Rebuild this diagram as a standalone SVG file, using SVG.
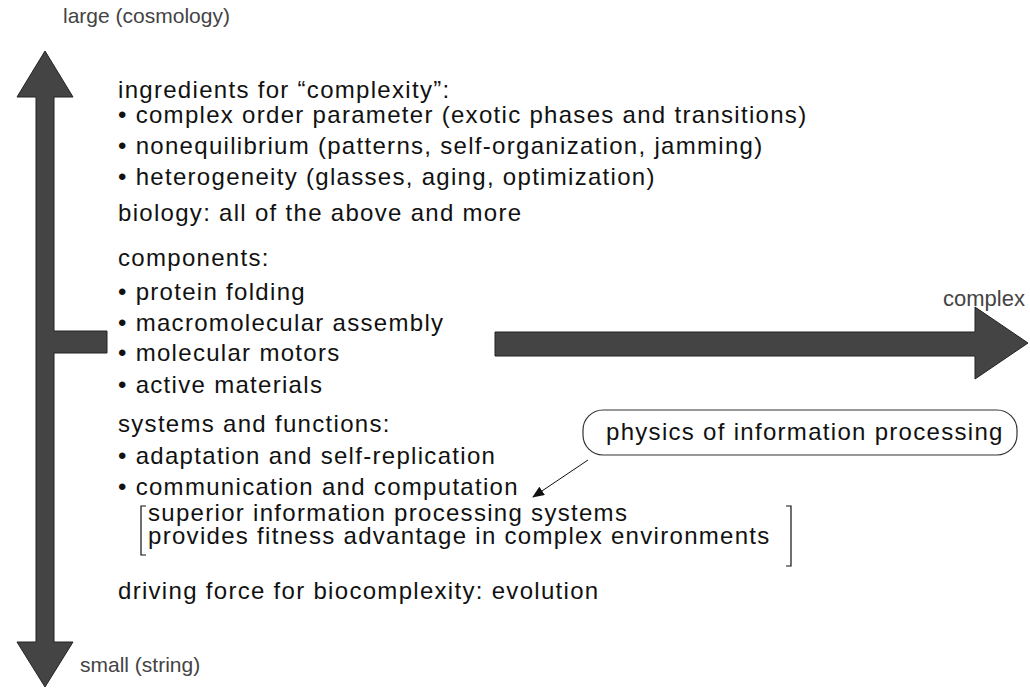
<svg xmlns="http://www.w3.org/2000/svg" width="1030" height="692" viewBox="0 0 1030 692">
<style>
.t{font-family:"Liberation Sans",Arial,sans-serif;font-size:24px;letter-spacing:1.3px;fill:#111}
.g{font-family:"Liberation Sans",Arial,sans-serif;font-size:21px;fill:#444}
.arr{fill:#444;stroke:#222;stroke-width:1}
</style>
<defs>
<marker id="ah" markerWidth="12" markerHeight="10" refX="11" refY="5" orient="auto" markerUnits="userSpaceOnUse"><path d="M0,0 L12,5 L0,10 z" fill="#111"/></marker>
</defs>
<rect width="1030" height="692" fill="#fff"/>
<g id="axes">
<path class="arr" d="M45,51 L73,97 L54,97 L54,331 L107,331 L107,353 L54,353 L54,642 L73,642 L45,687 L17,642 L36,642 L36,97 L17,97 Z"/>
<path class="arr" d="M495,332 L975,332 L975,307 L1028,343 L975,379 L975,356 L495,356 Z"/>
</g>
<g id="labels">
<text class="g" x="63" y="23">large (cosmology)</text>
<text class="g" x="80" y="672">small (string)</text>
<text class="g" x="943" y="306" style="font-size:22px">complex</text>
</g>
<g id="content">
<text class="t" x="118" y="98">ingredients for “complexity”:</text>
<text class="t" x="118" y="123">• complex order parameter (exotic phases and transitions)</text>
<text class="t" x="118" y="154">• nonequilibrium (patterns, self-organization, jamming)</text>
<text class="t" x="118" y="185">• heterogeneity (glasses, aging, optimization)</text>
<text class="t" x="118" y="221">biology: all of the above and more</text>
<text class="t" x="118" y="266">components:</text>
<text class="t" x="118" y="300">• protein folding</text>
<text class="t" x="118" y="331">• macromolecular assembly</text>
<text class="t" x="118" y="361">• molecular motors</text>
<text class="t" x="118" y="393">• active materials</text>
<text class="t" x="118" y="432">systems and functions:</text>
<text class="t" x="118" y="464">• adaptation and self-replication</text>
<text class="t" x="118" y="495">• communication and computation</text>
<text class="t" x="148" y="521">superior information processing systems</text>
<text class="t" x="148" y="544">provides fitness advantage in complex environments</text>
<text class="t" x="118" y="599">driving force for biocomplexity: evolution</text>
<path d="M146,506 L141,506 L141,555 L146,555" fill="none" stroke="#111" stroke-width="1.2"/>
<path d="M786,506 L791,506 L791,566 L786,566" fill="none" stroke="#111" stroke-width="1.2"/>
</g>
<g id="callout">
<rect x="583" y="410" width="434" height="45" rx="20" ry="20" fill="none" stroke="#333" stroke-width="1.2"/>
<text class="t" x="606" y="440">physics of information processing</text>
</g>
<g id="connectors">
<line x1="588" y1="460" x2="533" y2="497" stroke="#111" stroke-width="1" marker-end="url(#ah)"/>
</g>
</svg>
